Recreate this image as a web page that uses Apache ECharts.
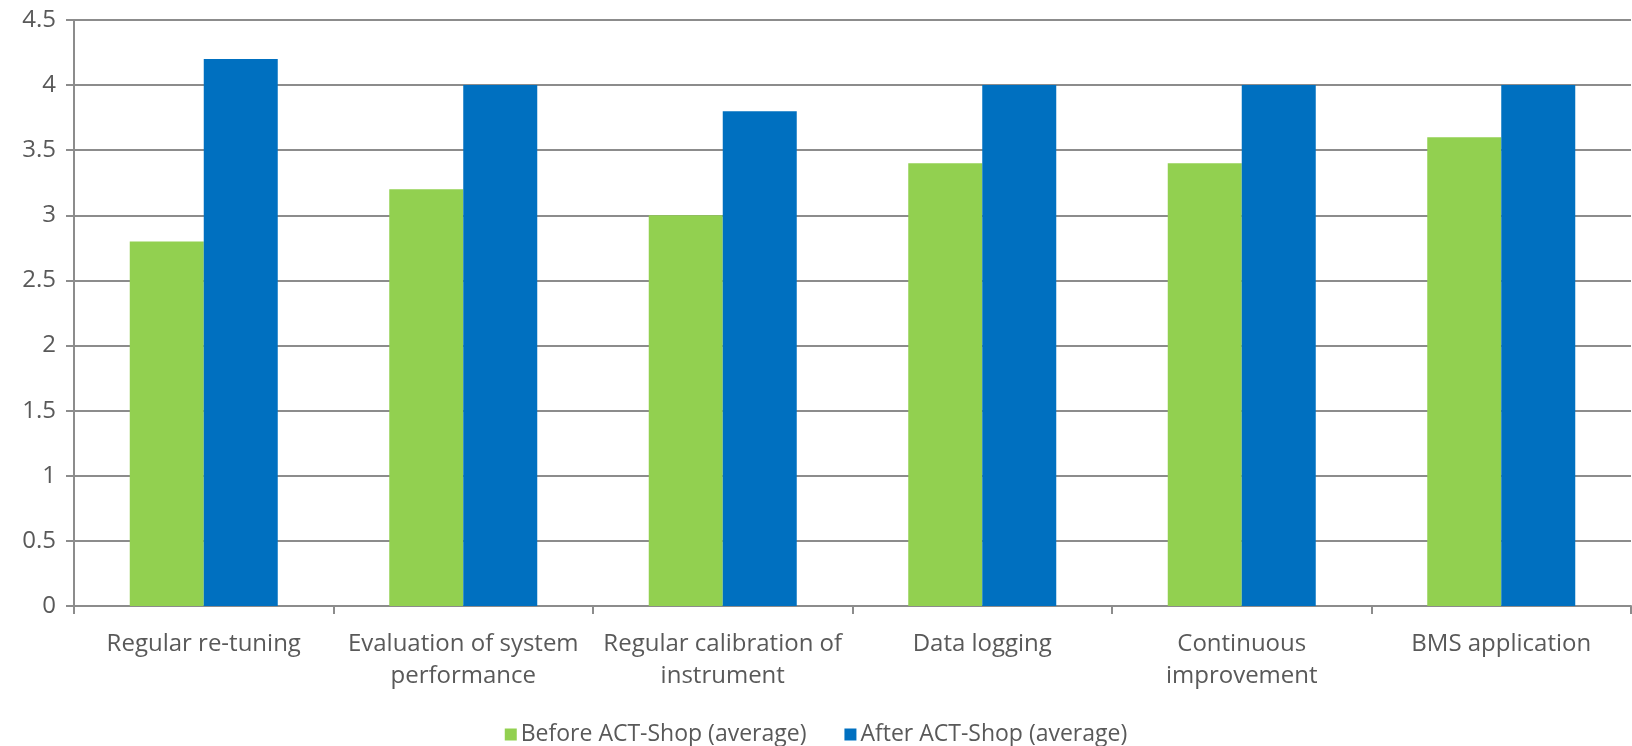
<!DOCTYPE html>
<html>
<head>
<meta charset="utf-8">
<script src="https://cdn.jsdelivr.net/npm/echarts@6/dist/echarts.min.js"></script>
<style>
  html, body { margin: 0; padding: 0; background: #fff; }
  #chart { width: 1632px; height: 746px; }
</style>
</head>
<body>
<div id="chart"></div>
<script>
const categories = [
  'Regular re-tuning',
  'Evaluation of system\nperformance',
  'Regular calibration of\ninstrument',
  'Data logging',
  'Continuous\nimprovement',
  'BMS application'
];
const seriesNames = ['Before ACT-Shop (average)', 'After ACT-Shop (average)'];
const beforeValues = [2.8, 3.2, 3.0, 3.4, 3.4, 3.6];
const afterValues = [4.2, 4.0, 3.8, 4.0, 4.0, 4.0];
const yTickLabels = ['0', '0.5', '1', '1.5', '2', '2.5', '3', '3.5', '4', '4.5'];

const FONT = '"Open Sans", Lato, sans-serif';
const TEXT = '#595959';
const LINE = '#8c8c8c';

const chart = echarts.init(document.getElementById('chart'), null, { renderer: 'canvas' });
chart.setOption({
  animation: false,
  backgroundColor: '#ffffff',
  textStyle: { fontFamily: FONT },
  legend: {
    top: 718,
    left: 'center',
    itemWidth: 12,
    itemHeight: 12,
    itemGap: 38,
    icon: 'rect',
    textStyle: { fontFamily: FONT, fontSize: 23, color: TEXT, padding: [0, 0, 0, -1] },
    data: seriesNames
  },
  grid: { left: 74, right: 1, top: 20, bottom: 140, containLabel: false },
  xAxis: {
    type: 'category',
    data: categories,
    axisLine: { lineStyle: { color: LINE, width: 2 } },
    axisTick: { show: true, length: 8, lineStyle: { color: LINE, width: 2 } },
    axisLabel: {
      fontFamily: FONT, fontSize: 24, color: TEXT,
      lineHeight: 32, margin: 22, interval: 0
    },
    splitLine: { show: false }
  },
  yAxis: {
    type: 'value',
    min: 0,
    max: 4.5,
    interval: 0.5,
    axisLine: { show: true, lineStyle: { color: LINE, width: 2 } },
    axisTick: { show: true, length: 8, lineStyle: { color: LINE, width: 2 } },
    axisLabel: {
      fontFamily: FONT, fontSize: 24, color: TEXT, margin: 18,
      formatter: function (v) {
        const i = Math.round(v / 0.5);
        return yTickLabels[i] !== undefined ? yTickLabels[i] : '';
      }
    },
    splitLine: { show: true, lineStyle: { color: LINE, width: 2 } }
  },
  series: [
    {
      name: seriesNames[0],
      type: 'bar',
      data: beforeValues,
      barWidth: 74,
      barGap: '0%',
      itemStyle: { color: '#92D050' }
    },
    {
      name: seriesNames[1],
      type: 'bar',
      data: afterValues,
      barWidth: 74,
      barGap: '0%',
      itemStyle: { color: '#0070C0' }
    }
  ]
});
</script>
</body>
</html>
